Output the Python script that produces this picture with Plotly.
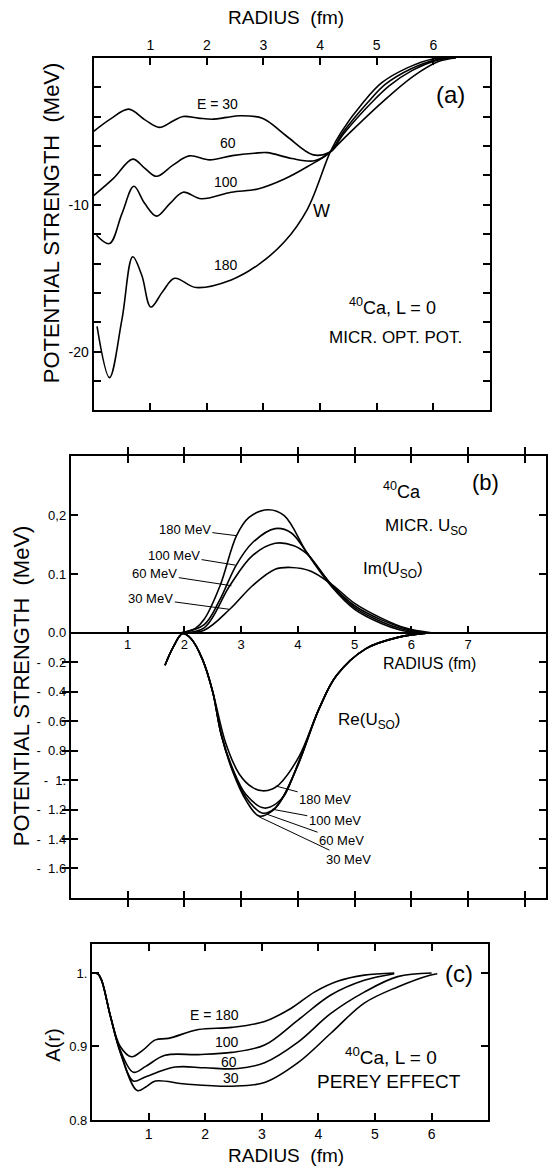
import plotly.graph_objects as go

W, H = 548, 1176

# ---------------- panel (a): microscopic optical potential W(r), 40Ca, L=0
a_r_30 = [0.0, 0.3, 0.62, 0.9, 1.16, 1.4, 1.58, 1.85, 2.11, 2.35, 2.58, 2.99, 3.4, 3.88, 4.18, 4.3, 4.53, 5.09, 5.65, 6.1, 6.4]
a_w_30 = [-5.0, -4.15, -3.49, -4.2, -4.73, -4.3, -3.99, -4.1, -4.17, -4.05, -3.94, -4.12, -5.3, -6.6, -6.4, -5.95, -5.07, -3.04, -1.24, -0.23, 0.0]
a_r_60 = [0.0, 0.35, 0.69, 0.9, 1.11, 1.4, 1.69, 2.05, 2.45, 2.84, 3.07, 3.5, 3.9, 4.18, 4.42, 4.91, 5.22, 5.63, 6.07, 6.38]
a_w_60 = [-9.37, -8.2, -6.89, -7.5, -8.06, -7.3, -6.67, -6.94, -6.65, -6.49, -6.45, -6.85, -7.0, -6.4, -5.15, -3.04, -1.9, -0.85, -0.15, 0.0]
a_r_100 = [0.05, 0.28, 0.5, 0.71, 0.9, 1.11, 1.35, 1.58, 1.9, 2.43, 2.9, 3.37, 3.78, 4.18, 4.4, 4.84, 5.15, 5.6, 6.05, 6.35]
a_w_100 = [-12.07, -12.64, -10.6, -8.74, -9.9, -10.77, -9.9, -9.14, -9.59, -9.14, -8.92, -8.24, -7.39, -6.4, -5.1, -3.04, -1.8, -0.75, -0.12, 0.0]
a_r_180 = [0.06, 0.28, 0.5, 0.69, 0.85, 1.01, 1.22, 1.43, 1.81, 2.43, 2.9, 3.37, 3.78, 4.18, 4.37, 4.76, 5.09, 5.54, 5.99, 6.3]
a_w_180 = [-18.27, -21.76, -17.8, -13.54, -14.8, -16.96, -15.9, -15.0, -15.63, -15.11, -14.1, -12.52, -10.27, -6.4, -5.07, -3.04, -1.69, -0.68, -0.07, 0.0]
a_xticks = [1, 2, 3, 4, 5, 6]
a_yticks = [-2, -4, -6, -8, -10, -12, -14, -16, -18, -20, -22]
a_yticktext = ["", "", "", "", "-10", "", "", "", "", "-20", ""]

# ---------------- panel (b): spin-orbit potential U_SO
b_r_im_180 = [1.95, 2.2, 2.35, 2.63, 2.92, 3.14, 3.48, 3.76, 4.16, 4.6, 5.0, 5.47, 5.8, 6.1]
b_im_180 = [0.0, 0.008, 0.023, 0.08, 0.165, 0.196, 0.209, 0.199, 0.136, 0.078, 0.040, 0.016, 0.005, 0.0]
b_r_im_100 = [1.95, 2.35, 2.62, 2.92, 3.2, 3.6, 3.88, 4.16, 4.6, 5.0, 5.47, 5.85, 6.15]
b_im_100 = [0.0, 0.014, 0.055, 0.116, 0.153, 0.177, 0.170, 0.136, 0.080, 0.043, 0.019, 0.006, 0.0]
b_r_im_60 = [1.95, 2.35, 2.8, 3.2, 3.6, 3.93, 4.16, 4.6, 5.0, 5.47, 5.9, 6.25]
b_im_60 = [0.0, 0.0085, 0.08, 0.131, 0.152, 0.148, 0.134, 0.081, 0.046, 0.022, 0.007, 0.0]
b_r_im_30 = [1.95, 2.35, 2.8, 3.2, 3.6, 3.88, 4.22, 4.6, 5.0, 5.47, 5.9, 6.35]
b_im_30 = [0.0, 0.0045, 0.04, 0.08, 0.108, 0.111, 0.105, 0.082, 0.05, 0.025, 0.008, 0.0]

b_r_re_30 = [1.66, 1.8, 1.97, 2.12, 2.32, 2.5, 2.65, 2.85, 3.09, 3.32, 3.55, 3.73, 4.02, 4.38, 4.68, 5.2, 5.78, 6.3]
b_re_30 = [-0.22, -0.1, -0.005, -0.04, -0.18, -0.4, -0.69, -0.94, -1.14, -1.245, -1.21, -1.12, -0.88, -0.51, -0.29, -0.107, -0.029, 0.0]
b_r_re_60 = [1.66, 1.8, 1.97, 2.12, 2.32, 2.5, 2.65, 2.85, 3.09, 3.38, 3.6, 3.75, 4.02, 4.38, 4.68, 5.2, 5.78, 6.3]
b_re_60 = [-0.22, -0.1, -0.005, -0.04, -0.18, -0.4, -0.69, -0.93, -1.12, -1.225, -1.19, -1.11, -0.88, -0.51, -0.29, -0.107, -0.029, 0.0]
b_r_re_100 = [1.66, 1.8, 1.97, 2.12, 2.32, 2.5, 2.65, 2.85, 3.09, 3.41, 3.62, 3.77, 4.02, 4.38, 4.68, 5.2, 5.78, 6.3]
b_re_100 = [-0.22, -0.1, -0.005, -0.04, -0.18, -0.4, -0.69, -0.92, -1.1, -1.19, -1.16, -1.1, -0.87, -0.51, -0.29, -0.107, -0.029, 0.0]
b_r_re_180 = [1.66, 1.8, 1.97, 2.12, 2.32, 2.5, 2.73, 2.97, 3.2, 3.38, 3.55, 3.67, 4.02, 4.38, 4.68, 5.2, 5.78, 6.3]
b_re_180 = [-0.22, -0.1, -0.005, -0.04, -0.18, -0.4, -0.75, -0.96, -1.05, -1.073, -1.06, -1.03, -0.84, -0.51, -0.29, -0.107, -0.029, 0.0]

b_xticks = [1, 2, 3, 4, 5, 6, 7, 8]
b_xlabels = [1, 2, 3, 4, 5, 6, 7]
b_re_ticks = [-0.2, -0.4, -0.6, -0.8, -1.0, -1.2, -1.4, -1.6]
b_re_ticktext = ["-  0.2", "-  0.4", "-  0.6", "-  0.8", "-  1.", "-  1.2", "-  1.4", "-  1.6"]
b_im_ticks = [0.0, 0.1, 0.2]
b_im_ticktext = ["0.0", "0.1", "0,2"]

# ---------------- panel (c): Perey effect A(r)
c_r_180 = [0.0, 0.1, 0.17, 0.33, 0.5, 0.7, 0.9, 1.12, 1.35, 1.88, 2.47, 3.05, 3.52, 3.93, 4.35, 4.81, 5.34]
c_a_180 = [1.0, 0.999, 0.99, 0.94, 0.9, 0.886, 0.895, 0.909, 0.911, 0.923, 0.926, 0.934, 0.952, 0.974, 0.989, 0.997, 1.0]
c_r_100 = [0.0, 0.1, 0.17, 0.33, 0.5, 0.73, 0.95, 1.29, 1.88, 2.47, 3.05, 3.64, 4.22, 4.81, 5.34]
c_a_100 = [1.0, 0.999, 0.99, 0.94, 0.895, 0.865, 0.873, 0.888, 0.889, 0.892, 0.902, 0.936, 0.970, 0.990, 0.999]
c_r_60 = [0.0, 0.1, 0.17, 0.33, 0.5, 0.73, 0.95, 1.47, 2.0, 2.58, 3.05, 3.64, 4.22, 4.81, 5.4, 6.0]
c_a_60 = [1.0, 0.999, 0.99, 0.94, 0.893, 0.853, 0.859, 0.872, 0.871, 0.870, 0.878, 0.906, 0.945, 0.974, 0.995, 1.0]
c_r_30 = [0.0, 0.1, 0.17, 0.33, 0.5, 0.8, 0.95, 1.12, 1.65, 2.47, 3.05, 3.64, 4.22, 4.81, 5.4, 5.97, 6.1]
c_a_30 = [1.0, 0.999, 0.99, 0.94, 0.892, 0.840, 0.845, 0.853, 0.849, 0.846, 0.851, 0.878, 0.918, 0.959, 0.981, 0.997, 0.999]
c_xticks = [1, 2, 3, 4, 5, 6]
c_yticks = [0.8, 0.9, 1.0]
c_yticktext = ["0.8", "0.9", "1."]

# ---------------- layout geometry (page pixels)
A_BOX = (94, 491.7, 58.3, 413.3)
B_BOX = (71, 548, 459.3, 904)
B_XRANGE = [0, 8.37]
C_BOX = (92.3, 490, 950, 1127.7)
B_RE_RANGE = [-1.8, 1.2]
B_IM_RANGE = [-0.45, 0.30]

FONT = "Liberation Sans, Arial, Helvetica, sans-serif"
INK = "black"


def xdom(b):
    return [b[0] / W, min(b[1] / W, 1.0)]


def ydom(b):
    return [1 - b[3] / H, 1 - b[2] / H]


def frame_axis(**kw):
    d = dict(showline=True, linewidth=2, linecolor=INK, mirror="allticks",
             ticks="inside", ticklen=7, tickwidth=1.5, tickcolor=INK,
             showgrid=False, zeroline=False,
             tickfont=dict(family=FONT, size=14, color=INK))
    d.update(kw)
    return d


fig = go.Figure()
LW = 1.6


def curve(x, y, xa, ya):
    fig.add_trace(go.Scatter(x=x, y=y, xaxis=xa, yaxis=ya, mode="lines",
                             line=dict(color=INK, width=LW, shape="spline", smoothing=1.0),
                             hoverinfo="skip", showlegend=False))


for rr, vv in [(a_r_30, a_w_30), (a_r_60, a_w_60), (a_r_100, a_w_100), (a_r_180, a_w_180)]:
    curve(rr, vv, "x", "y")
for rr, vv in [(b_r_re_30, b_re_30), (b_r_re_60, b_re_60), (b_r_re_100, b_re_100), (b_r_re_180, b_re_180)]:
    curve(rr, vv, "x2", "y2")
for rr, vv in [(b_r_im_180, b_im_180), (b_r_im_100, b_im_100), (b_r_im_60, b_im_60), (b_r_im_30, b_im_30)]:
    curve(rr, vv, "x2", "y3")
for rr, vv in [(c_r_180, c_a_180), (c_r_100, c_a_100), (c_r_60, c_a_60), (c_r_30, c_a_30)]:
    curve(rr, vv, "x4", "y4")
# empty trace so that the radius axis drawn on the zero line of panel (b) is rendered
fig.add_trace(go.Scatter(x=[], y=[], xaxis="x3", yaxis="y2", mode="lines",
                         hoverinfo="skip", showlegend=False))

# position of the zero line of panel (b) in paper coordinates
bd = ydom(B_BOX)
zero_pos = bd[0] + (0 - B_RE_RANGE[0]) / (B_RE_RANGE[1] - B_RE_RANGE[0]) * (bd[1] - bd[0])

fig.update_layout(
    width=W, height=H, margin=dict(l=0, r=0, t=0, b=0),
    paper_bgcolor="white", plot_bgcolor="white", showlegend=False,
    font=dict(family=FONT, color=INK),
    xaxis=frame_axis(domain=xdom(A_BOX), range=[0, 7], anchor="y", side="top",
                     tickvals=a_xticks),
    yaxis=frame_axis(domain=ydom(A_BOX), range=[-24, 0], anchor="x",
                     tickvals=a_yticks, ticktext=a_yticktext),
    xaxis2=frame_axis(domain=xdom(B_BOX), range=B_XRANGE, anchor="y2",
                      tickvals=b_xticks, showticklabels=False),
    yaxis2=frame_axis(domain=ydom(B_BOX), range=B_RE_RANGE, anchor="x2",
                      tickvals=b_re_ticks, ticktext=b_re_ticktext,
                      tickfont=dict(family=FONT, size=13, color=INK)),
    yaxis3=frame_axis(overlaying="y2", anchor="x2", side="left", range=B_IM_RANGE,
                      tickvals=b_im_ticks, ticktext=b_im_ticktext,
                      tickfont=dict(family=FONT, size=13, color=INK)),
    xaxis3=dict(overlaying="x2", anchor="free", position=zero_pos, side="bottom",
                range=B_XRANGE, tickvals=b_xlabels, ticks="inside", ticklen=6,
                tickwidth=1.5, tickcolor=INK, showline=True, linewidth=1.5,
                linecolor=INK, showgrid=False, zeroline=False,
                tickfont=dict(family=FONT, size=13, color=INK)),
    xaxis4=frame_axis(domain=xdom(C_BOX), range=[0, 7], anchor="y4",
                      tickvals=c_xticks),
    yaxis4=frame_axis(domain=ydom(C_BOX), range=[0.8, 1.04], anchor="x4",
                      tickvals=c_yticks, ticktext=c_yticktext,
                      tickfont=dict(family=FONT, size=13, color=INK)),
)

ann = []


def note(x, y, s, xref, yref, size=14, **kw):
    d = dict(x=x, y=y, text=s, xref=xref, yref=yref, showarrow=False,
             font=dict(family=FONT, size=size, color=INK),
             xanchor="center", yanchor="middle")
    d.update(kw)
    ann.append(d)


def paper(px, py, s, size, angle=0):
    note(px / W, 1 - py / H, s, "paper", "paper", size=size, textangle=angle)


def leader(tipx, tipy, tx, ty, s, xref, yref, size=13):
    ann.append(dict(x=tipx, y=tipy, ax=tx, ay=ty, xref=xref, yref=yref,
                    axref=xref, ayref=yref, text=s, showarrow=True,
                    arrowhead=0, arrowwidth=1, arrowcolor=INK, standoff=0,
                    font=dict(family=FONT, size=size, color=INK)))


# axis titles
paper(287, 18, "RADIUS  (fm)", 19)
paper(52, 224, "POTENTIAL STRENGTH  (MeV)", 22, angle=-90)
paper(21, 690, "POTENTIAL STRENGTH  (MeV)", 22, angle=-90)
paper(53, 1052, "A(r)", 20, angle=-90)
paper(287, 1163, "RADIUS  (fm)", 19)

# panel (a) labels
note(2.18, -3.15, "E = 30", "x", "y")
note(2.37, -5.81, "60", "x", "y")
note(2.33, -8.42, "100", "x", "y")
note(2.33, -14.1, "180", "x", "y")
note(4.03, -10.45, "W", "x", "y", size=18)
note(6.31, -2.48, "(a)", "x", "y", size=24)
note(5.28, -16.9, "<sup>40</sup>Ca, L = 0", "x", "y", size=18)
note(5.34, -19.05, "MICR. OPT. POT.", "x", "y", size=17)

# panel (b) labels
note(5.84, 0.241, "<sup>40</sup>Ca", "x2", "y3", size=18)
note(7.31, 0.255, "(b)", "x2", "y3", size=22)
note(6.25, 0.179, "MICR. U<sub>SO</sub>", "x2", "y3", size=17)
note(5.67, 0.106, "Im(U<sub>SO</sub>)", "x2", "y3", size=17)
note(6.31, -0.207, "RADIUS (fm)", "x2", "y2", size=16)
note(5.26, -0.60, "Re(U<sub>SO</sub>)", "x2", "y2", size=17)
leader(2.92, 0.165, 2.01, 0.176, "180 MeV", "x2", "y3")
leader(2.90, 0.115, 1.82, 0.132, "100 MeV", "x2", "y3")
leader(2.83, 0.080, 1.48, 0.100, "60 MeV", "x2", "y3")
leader(2.79, 0.040, 1.41, 0.058, "30 MeV", "x2", "y3")
leader(3.61, -1.04, 4.48, -1.13, "180 MeV", "x2", "y2")
leader(3.55, -1.198, 4.65, -1.277, "100 MeV", "x2", "y2")
leader(3.44, -1.23, 4.77, -1.412, "60 MeV", "x2", "y2")
leader(3.32, -1.25, 4.89, -1.537, "30 MeV", "x2", "y2")

# panel (c) labels
note(2.17, 0.943, "E = 180", "x4", "y4")
note(2.38, 0.906, "100", "x4", "y4")
note(2.42, 0.879, "60", "x4", "y4")
note(2.45, 0.857, "30", "x4", "y4")
note(6.49, 0.999, "(c)", "x4", "y4", size=24)
note(5.28, 0.887, "<sup>40</sup>Ca, L = 0", "x4", "y4", size=19)
note(5.25, 0.853, "PEREY EFFECT", "x4", "y4", size=19)

fig.update_layout(annotations=ann)
fig.write_html("out.html")
